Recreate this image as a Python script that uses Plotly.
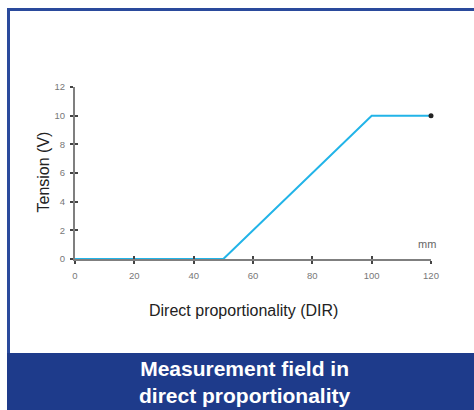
import plotly.graph_objects as go

# Sensor output curve
travel_mm = [0, 50, 100, 120]
tension_v = [0, 0, 10, 10]

x_ticks = [0, 20, 40, 60, 80, 100, 120]
y_ticks = [0, 2, 4, 6, 8, 10, 12]

W, H = 474, 410
L, R, T, B = 75, 43, 87, 151
PW, PH = W - L - R, H - T - B

def px_x(p):
    return (p - L) / PW

def px_y(p):
    return (H - B - p) / PH

BLUE = '#1e3b8b'
AXIS = '#7f7f7f'
FONT = 'Liberation Sans, Arial, sans-serif'

fig = go.Figure()
fig.add_trace(go.Scatter(
    x=travel_mm, y=tension_v, mode='lines',
    line=dict(color='#22b4e8', width=2), cliponaxis=False, showlegend=False
))
fig.add_trace(go.Scatter(
    x=[travel_mm[-1]], y=[tension_v[-1]], mode='markers',
    marker=dict(color='#222222', size=5), cliponaxis=False, showlegend=False
))

axis_common = dict(showline=True, linecolor=AXIS, linewidth=2, showgrid=False,
                   zeroline=False, ticks='outside', ticklen=3, tickwidth=1.5,
                   tickcolor='#444444', tickfont=dict(size=9.5, color='#777777', family=FONT))

fig.update_layout(
    width=W, height=H,
    margin=dict(l=L, r=R, t=T, b=B),
    paper_bgcolor='white', plot_bgcolor='white',
    xaxis=dict(range=[0, 120], tickvals=x_ticks, ticklabelstandoff=4, **axis_common),
    yaxis=dict(range=[0, 12], tickvals=y_ticks, ticklabelstandoff=3, **axis_common),
    xaxis2=dict(range=[0, 120], overlaying='x', tickvals=x_ticks, ticks='inside', ticklen=3,
                tickwidth=1.5, tickcolor='#444444', showticklabels=False, showgrid=False,
                zeroline=False, anchor='y', side='bottom'),
    yaxis2=dict(range=[0, 12], overlaying='y', tickvals=y_ticks, ticks='inside', ticklen=3,
                tickwidth=1.5, tickcolor='#444444', showticklabels=False, showgrid=False,
                zeroline=False, anchor='x', side='left'),
    showlegend=False,
)
fig.add_trace(go.Scatter(x=[None], y=[None], xaxis='x2', yaxis='y2', showlegend=False))

# frame and bottom banner
fig.add_shape(type='line', xref='paper', yref='paper',
              x0=px_x(7), x1=px_x(W + 2), y0=px_y(9.5), y1=px_y(9.5),
              line=dict(color='#2a4a9c', width=3))
fig.add_shape(type='line', xref='paper', yref='paper',
              x0=px_x(8.5), x1=px_x(8.5), y0=px_y(8), y1=px_y(354),
              line=dict(color='#2a4a9c', width=3))
fig.add_shape(type='rect', xref='paper', yref='paper',
              x0=px_x(7), x1=px_x(W + 2), y0=px_y(353), y1=px_y(H + 2),
              fillcolor=BLUE, line=dict(width=0), layer='above')

fig.add_annotation(text='Tension (V)', xref='paper', yref='paper',
                   x=px_x(32), y=px_y(172), textangle=-90, showarrow=False,
                   font=dict(size=16, color='#222222', family=FONT))
fig.add_annotation(text='Direct proportionality (DIR)', xref='paper', yref='paper',
                   x=px_x(243), y=px_y(310), yanchor='middle', showarrow=False,
                   font=dict(size=16, color='#222222', family=FONT))
fig.add_annotation(text='mm', xref='paper', yref='paper',
                   x=px_x(437.5), y=px_y(244), yanchor='middle', showarrow=False,
                   font=dict(size=11, color='#666666', family=FONT))
fig.add_annotation(text='<b>Measurement field in<br>direct proportionality</b>',
                   xref='paper', yref='paper', x=px_x(245), y=px_y(382),
                   xanchor='center', yanchor='middle',
                   showarrow=False, align='center',
                   font=dict(size=21, color='white', family=FONT))

# drop the default page margin so the figure sits at the window's corner
fig.write_html('out.html', config={'displayModeBar': False},
               post_script="document.body.style.margin='0';")
